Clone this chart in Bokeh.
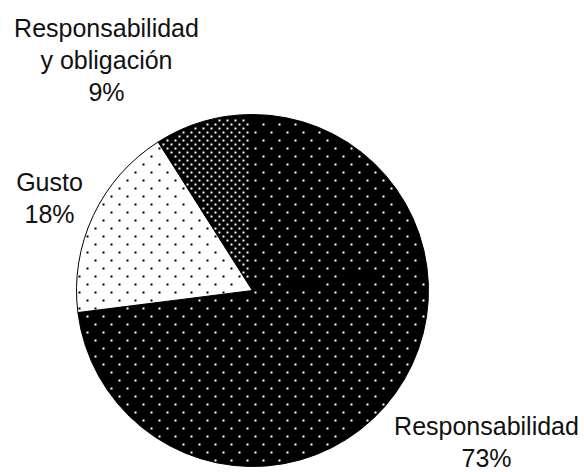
import math
import numpy as np
from bokeh.plotting import figure
from bokeh.models import Range1d, ColumnDataSource
from bokeh.core.properties import value
from bokeh.embed import file_html
from bokeh.resources import INLINE

# ---- data ----
categories = ["Responsabilidad", "Gusto", "Responsabilidad\ny obligación"]
percents = [73, 18, 9]

# ---- layout / style ----
W, H = 584, 472
CX, CY, R = 252, 290, 176          # pie centre (screen px, y down) and radius
fills = ["#000000", "#ffffff", "#000000"]
dot_colors = ["#ffffff", "#000000", "#ffffff"]
dot_steps = [8, 8, 4]              # staggered-lattice row step (px) of the fill texture
label_anchor = [(486, 425), (49, 181), (106, 27)]   # centre x, first baseline (screen px)
LINE = 32

p = figure(width=W, height=H, output_backend="svg", toolbar_location=None,
           x_range=Range1d(0, W), y_range=Range1d(0, H), min_border=0)
p.axis.visible = False
p.grid.visible = False
p.outline_line_color = None
p.background_fill_color = "white"
p.border_fill_color = "white"

# wedges: start at 12 o'clock, go clockwise
total = sum(percents)
bounds = np.concatenate([[0.0], np.cumsum(percents) / total * 2 * math.pi])  # cw from top
for i, fc in enumerate(fills):
    p.wedge(x=[CX], y=[H - CY], radius=R,
            start_angle=[math.pi / 2 - bounds[i]], end_angle=[math.pi / 2 - bounds[i + 1]],
            direction="clock", fill_color=fc, line_color="black", line_width=1)


# dotted texture inside each wedge (decoration, staggered lattice)
def lattice(step):
    pts = []
    for row, y in enumerate(np.arange(CY - R, CY + R + 1, step)):
        off = 0 if row % 2 == 0 else step
        for x in np.arange(CX - R - 2 * step + off, CX + R + 1, 2 * step):
            pts.append((x + 3, y + 2))
    return np.array(pts, dtype=float)


for i in range(len(categories)):
    pts = lattice(dot_steps[i])
    dx = pts[:, 0] - CX
    dy = pts[:, 1] - CY
    rr = np.hypot(dx, dy)
    th = np.mod(np.arctan2(dx, -dy), 2 * math.pi)
    a0, a1 = bounds[i], bounds[i + 1]
    inside = (rr < R - 2) & (th >= a0) & (th < a1)
    for a in (a0, a1):
        ux, uy = math.sin(a), -math.cos(a)
        inside &= np.abs(dx * uy - dy * ux) > 1.6
    sel = pts[inside]
    p.scatter(x=sel[:, 0], y=H - sel[:, 1], marker="square", size=2,
              fill_color=dot_colors[i], line_color=None)

# labels
xs, ys, texts = [], [], []
for cat, pct, (ax, ay) in zip(categories, percents, label_anchor):
    lines = cat.split("\n") + [f"{pct}%"]
    for i, ln in enumerate(lines):
        xs.append(ax)
        ys.append(H - (ay + i * LINE))
        texts.append(ln)

src = ColumnDataSource(dict(x=xs, y=ys, text=texts))
p.text(x="x", y="y", text="text", source=src, text_font=value("Liberation Sans"),
       text_font_size="25px", text_align="center", text_baseline="alphabetic",
       text_color="#111111")

open("out.html", "w").write(file_html(p, INLINE))
